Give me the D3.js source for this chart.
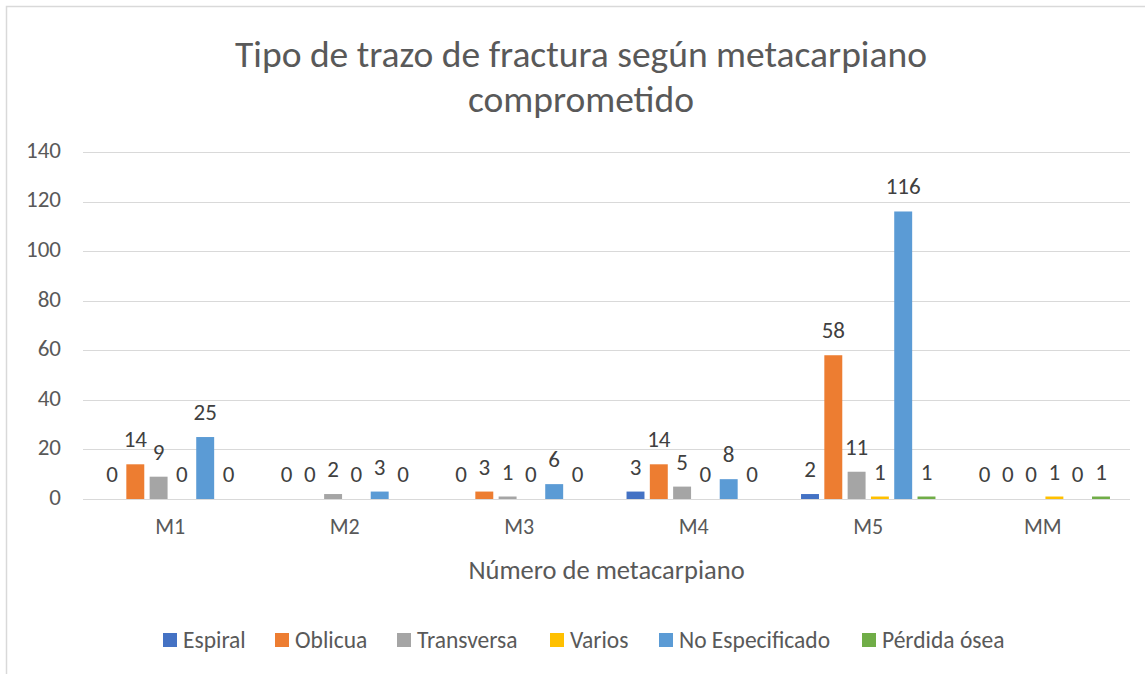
<!DOCTYPE html>
<html>
<head>
<meta charset="utf-8">
<script src="https://cdn.jsdelivr.net/npm/d3@7"></script>
<style>
  body { margin: 0; background: #fff; }
  svg { display: block; font-family: Carlito, Calibri, Lato, "Open Sans", sans-serif; }
</style>
</head>
<body>
<svg></svg>
<script>
var width = 1145;
var height = 674;

// data
var categories = ["M1", "M2", "M3", "M4", "M5", "MM"];
var series = ["Espiral", "Oblicua", "Transversa", "Varios", "No Especificado", "Pérdida ósea"];
var colors = ["#4472C4", "#ED7D31", "#A5A5A5", "#FFC000", "#5B9BD5", "#70AD47"];
var espiral    = [0, 0, 0, 3, 2, 0];
var oblicua    = [14, 0, 3, 14, 58, 0];
var transversa = [9, 2, 1, 5, 11, 0];
var varios     = [0, 0, 0, 0, 1, 1];
var noEspec    = [25, 3, 6, 8, 116, 0];
var perdida    = [0, 0, 0, 0, 1, 1];
var yTicks = [0, 20, 40, 60, 80, 100, 120, 140];

var values = [espiral, oblicua, transversa, varios, noEspec, perdida];

var svg = d3.select("svg")
    .attr("width", width)
    .attr("height", height);

// chart frame (only top & left show)
svg.append("rect")
    .attr("x", 6.5).attr("y", 6.5)
    .attr("width", 1200).attr("height", 700)
    .attr("fill", "none")
    .attr("stroke", "#d9d9d9")
    .attr("stroke-width", 1.5);

var plotLeft = 83, plotRight = 1130, plotTop = 152, plotBottom = 499;

var x0 = d3.scaleBand().domain(categories).range([plotLeft, plotRight]);
var x1 = d3.scaleBand().domain(series).range([0, x0.bandwidth()])
    .paddingInner(0.23).paddingOuter(0.86);
var y = d3.scaleLinear().domain([0, 140]).range([plotBottom, plotTop]);

// gridlines
svg.append("g").selectAll("line")
  .data(yTicks)
  .enter().append("line")
    .attr("x1", plotLeft).attr("x2", plotRight)
    .attr("y1", function(d) { return Math.round(y(d)) + 0.5; })
    .attr("y2", function(d) { return Math.round(y(d)) + 0.5; })
    .attr("stroke", "#d9d9d9")
    .attr("stroke-width", 1.2);

// y axis labels
var yAxis = d3.axisLeft(y).tickValues(yTicks).tickSize(0).tickPadding(0);
var gy = svg.append("g")
    .attr("transform", "translate(61,-2)")
    .call(yAxis)
    .attr("font-family", null)
    .attr("font-size", null);
gy.select(".domain").remove();
gy.selectAll("text")
    .attr("fill", "#595959")
    .style("font-size", "23px");

// x axis labels
var xAxis = d3.axisBottom(x0).tickSize(0).tickPadding(0);
var gx = svg.append("g")
    .attr("transform", "translate(0," + (plotBottom + 19) + ")")
    .call(xAxis)
    .attr("font-family", null)
    .attr("font-size", null);
gx.select(".domain").remove();
gx.selectAll("text")
    .attr("fill", "#595959")
    .style("font-size", "22px");

// bars
var groups = svg.append("g").selectAll("g")
  .data(categories)
  .enter().append("g")
    .attr("transform", function(d) { return "translate(" + x0(d) + ",0)"; });

function rows(c, ci) {
  return series.map(function(s, si) { return {s: s, i: si, v: values[si][ci]}; });
}

groups.selectAll("rect")
  .data(rows)
  .enter().append("rect")
    .attr("x", function(d) { return x1(d.s); })
    .attr("width", x1.bandwidth())
    .attr("y", function(d) { return y(d.v); })
    .attr("height", function(d) { return y(0) - y(d.v); })
    .attr("fill", function(d) { return colors[d.i]; });

groups.selectAll("text")
  .data(rows)
  .enter().append("text")
    .attr("x", function(d) { return x1(d.s) + x1.bandwidth() / 2; })
    .attr("y", function(d) { return y(d.v) - 17; })
    .attr("text-anchor", "middle")
    .attr("fill", "#404040")
    .style("font-size", "23px")
    .text(function(d) { return d.v; });

// title
var title = svg.append("text")
    .attr("text-anchor", "middle")
    .attr("fill", "#595959")
    .style("font-size", "37.5px");
title.append("tspan").attr("x", 581).attr("y", 67).text("Tipo de trazo de fractura según metacarpiano");
title.append("tspan").attr("x", 581).attr("y", 112).text("comprometido");

// axis title
svg.append("text")
    .attr("x", (plotLeft + plotRight) / 2)
    .attr("y", 579)
    .attr("text-anchor", "middle")
    .attr("fill", "#595959")
    .style("font-size", "26.5px")
    .text("Número de metacarpiano");

// legend
var legendX = [163, 275, 397, 550, 659, 862];
var legend = svg.append("g").selectAll("g")
  .data(series)
  .enter().append("g")
    .attr("transform", function(d, i) { return "translate(" + legendX[i] + ",633)"; });
legend.append("rect")
    .attr("width", 14).attr("height", 14)
    .attr("fill", function(d, i) { return colors[i]; });
legend.append("text")
    .attr("x", 20).attr("y", 15)
    .attr("fill", "#595959")
    .style("font-size", "23.5px")
    .text(function(d) { return d; });
</script>
</body>
</html>
